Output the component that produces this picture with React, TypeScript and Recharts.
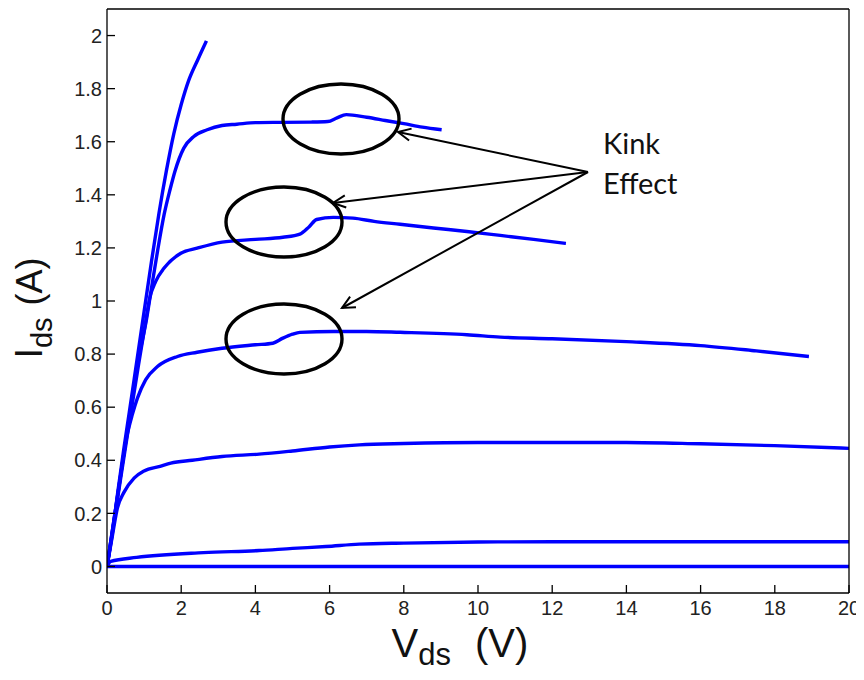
import { LineChart, Line, XAxis, YAxis } from 'recharts';

// Ids–Vds output curves, one per gate bias. V in volts, I in amps.
const vdsA = [0, 0.15, 0.3, 0.45, 0.6, 0.8, 1.0, 1.2, 1.4, 1.6, 1.8, 2.0, 2.2, 2.45, 2.68];
const idsA = [0, 0.13, 0.29, 0.44, 0.58, 0.77, 0.96, 1.15, 1.33, 1.49, 1.63, 1.74, 1.83, 1.91, 1.98];

const vdsB = [0, 0.3, 0.6, 0.85, 1.07, 1.2, 1.36, 1.54, 1.7, 1.83, 2.07, 2.34, 2.7, 3.1, 3.5, 4.0, 4.7, 5.5, 5.95, 6.2, 6.45, 7.0, 7.5, 8.0, 8.5, 9.02];
const idsB = [0, 0.28, 0.56, 0.78, 0.935, 1.05, 1.186, 1.326, 1.42, 1.488, 1.576, 1.62, 1.645, 1.661, 1.666, 1.672, 1.673, 1.674, 1.676, 1.69, 1.702, 1.692, 1.68, 1.668, 1.655, 1.645];

const vdsC = [0, 0.3, 0.6, 0.85, 1.04, 1.15, 1.31, 1.54, 1.99, 2.43, 3.1, 4.0, 4.74, 5.2, 5.45, 5.65, 6.1, 6.63, 7.2, 7.9, 8.8, 9.7, 10.6, 11.5, 12.37];
const idsC = [0, 0.27, 0.54, 0.76, 0.92, 1.01, 1.073, 1.124, 1.18, 1.199, 1.222, 1.232, 1.24, 1.252, 1.28, 1.307, 1.315, 1.312, 1.3, 1.289, 1.275, 1.262, 1.247, 1.232, 1.217];

const vdsD = [0, 0.3, 0.55, 0.68, 0.82, 1.04, 1.36, 1.9, 2.43, 3.1, 4.0, 4.47, 4.74, 5.0, 5.2, 6.1, 7.0, 7.9, 9.7, 10.6, 12.0, 14.0, 16.0, 17.5, 18.92];
const idsD = [0, 0.28, 0.5, 0.571, 0.634, 0.703, 0.753, 0.791, 0.807, 0.822, 0.835, 0.841, 0.86, 0.875, 0.882, 0.885, 0.885, 0.882, 0.873, 0.864, 0.858, 0.847, 0.832, 0.812, 0.791];

const vdsE = [0, 0.15, 0.28, 0.46, 0.73, 1.0, 1.43, 1.72, 2.3, 3.1, 4.1, 5.0, 6.0, 6.8, 8.0, 10.0, 12.0, 14.0, 16.0, 18.0, 20.0];
const idsE = [0, 0.12, 0.22, 0.28, 0.333, 0.36, 0.377, 0.389, 0.4, 0.414, 0.423, 0.435, 0.45, 0.458, 0.463, 0.467, 0.467, 0.467, 0.462, 0.455, 0.445];

const vdsF = [0, 0.1, 0.8, 2.6, 4.1, 5.0, 5.9, 6.8, 8.0, 10.0, 12.0, 14.0, 16.0, 18.0, 20.0];
const idsF = [0, 0.019, 0.034, 0.052, 0.06, 0.068, 0.075, 0.084, 0.088, 0.092, 0.093, 0.093, 0.093, 0.093, 0.093];

const vdsG = [0, 20];
const idsG = [0, 0];

const xTicks = [0, 2, 4, 6, 8, 10, 12, 14, 16, 18, 20];
const yTicks = [0, 0.2, 0.4, 0.6, 0.8, 1, 1.2, 1.4, 1.6, 1.8, 2];

const toPoints = (v: number[], i: number[]) => v.map((x, k) => ({ v: x, i: i[k] }));

const curves = [
  toPoints(vdsA, idsA),
  toPoints(vdsB, idsB),
  toPoints(vdsC, idsC),
  toPoints(vdsD, idsD),
  toPoints(vdsE, idsE),
  toPoints(vdsF, idsF),
  toPoints(vdsG, idsG),
];

const W = 856;
const H = 664;
const AXIS_FONT = '"Liberation Sans", Arial, sans-serif';
const NOTE_FONT = "Lato, 'Open Sans', sans-serif";
const TICK_LEN = 8;

// MATLAB-style ticks: short marks pointing into the plot box
const LeftTick = ({ x, y, payload }: any) => (
  <g>
    <line x1={x} y1={y} x2={x + TICK_LEN} y2={y} stroke="#000" strokeWidth={1.3} />
    <text x={x - 5} y={y} dy="0.36em" textAnchor="end" fontSize={20} fontFamily={AXIS_FONT} fill="#222">
      {payload.value}
    </text>
  </g>
);

const RightTick = ({ x, y }: any) => (
  <line x1={x} y1={y} x2={x - TICK_LEN} y2={y} stroke="#000" strokeWidth={1.3} />
);

const BottomTick = ({ x, y, payload }: any) => (
  <g>
    <line x1={x} y1={y} x2={x} y2={y - TICK_LEN} stroke="#000" strokeWidth={1.3} />
    <text x={x} y={y + 22} textAnchor="middle" fontSize={20} fontFamily={AXIS_FONT} fill="#222">
      {payload.value}
    </text>
  </g>
);

const TopTick = ({ x, y }: any) => (
  <line x1={x} y1={y} x2={x} y2={y + TICK_LEN} stroke="#000" strokeWidth={1.3} />
);

// open arrowhead at (tx, ty), pointing away from (fx, fy)
function arrowHead(fx: number, fy: number, tx: number, ty: number, len = 14, spread = 0.45) {
  const a = Math.atan2(fy - ty, fx - tx);
  const p1 = [tx + len * Math.cos(a + spread), ty + len * Math.sin(a + spread)];
  const p2 = [tx + len * Math.cos(a - spread), ty + len * Math.sin(a - spread)];
  return `M${p1[0]},${p1[1]} L${tx},${ty} L${p2[0]},${p2[1]}`;
}

const hub = { x: 580, y: 164 };
const arrowTips = [
  { x: 390, y: 124 },
  { x: 325, y: 195 },
  { x: 334, y: 300 },
];
const kinkRings = [
  { cx: 333, cy: 111 },
  { cx: 276, cy: 214 },
  { cx: 276, cy: 331 },
];

export default function App() {
  return (
    <div style={{ position: 'relative', width: W, height: H }}>
      <LineChart width={W} height={H} margin={{ top: 0, right: 14, bottom: 39, left: 0 }}>
        <XAxis
          xAxisId="bottom"
          type="number"
          dataKey="v"
          domain={[0, 20]}
          ticks={xTicks}
          allowDataOverflow
          height={40}
          tickSize={0}
          tickMargin={0}
          tickLine={false}
          axisLine={{ stroke: '#000', strokeWidth: 1.3 }}
          tick={BottomTick}
        />
        <XAxis
          xAxisId="top"
          orientation="top"
          type="number"
          dataKey="v"
          domain={[0, 20]}
          ticks={xTicks}
          height={1}
          tickSize={0}
          tickMargin={0}
          tickLine={false}
          axisLine={{ stroke: '#000', strokeWidth: 1.3 }}
          tick={TopTick}
        />
        <YAxis
          yAxisId="left"
          type="number"
          dataKey="i"
          domain={[-0.1, 2.1]}
          ticks={yTicks}
          allowDataOverflow
          width={99}
          tickSize={0}
          tickMargin={0}
          tickLine={false}
          axisLine={{ stroke: '#000', strokeWidth: 1.3 }}
          tick={LeftTick}
        />
        <YAxis
          yAxisId="right"
          orientation="right"
          type="number"
          dataKey="i"
          domain={[-0.1, 2.1]}
          ticks={yTicks}
          width={1}
          tickSize={0}
          tickMargin={0}
          tickLine={false}
          axisLine={{ stroke: '#000', strokeWidth: 1.3 }}
          tick={RightTick}
        />
        {curves.map((pts, k) => (
          <Line
            key={`curve-${k}`}
            data={pts}
            xAxisId="bottom"
            yAxisId="left"
            dataKey="i"
            type="monotoneX"
            stroke="#0000ff"
            strokeWidth={3.4}
            dot={false}
            activeDot={false}
            isAnimationActive={false}
          />
        ))}
      </LineChart>

      <svg width={W} height={H} style={{ position: 'absolute', left: 0, top: 0, pointerEvents: 'none' }}>
        {kinkRings.map((r, k) => (
          <ellipse key={`ring-${k}`} cx={r.cx} cy={r.cy} rx={58} ry={35} fill="none" stroke="#000" strokeWidth={3.4} />
        ))}
        {arrowTips.map((t, k) => (
          <g key={`arrow-${k}`} fill="none" stroke="#000" strokeWidth={2}>
            <line x1={hub.x} y1={hub.y} x2={t.x} y2={t.y} />
            <path d={arrowHead(hub.x, hub.y, t.x, t.y)} />
          </g>
        ))}
        <text x={595} y={146} fontSize={29} fontFamily={NOTE_FONT} fill="#111">Kink</text>
        <text x={595} y={186} fontSize={29} fontFamily={NOTE_FONT} fill="#111">Effect</text>

        <text x={452} y={649} textAnchor="middle" fontFamily={AXIS_FONT} fill="#111">
          <tspan fontSize={40}>V</tspan>
          <tspan fontSize={31} dy={8}>ds</tspan>
          <tspan fontSize={40} dy={-8} dx={24}>(V)</tspan>
        </text>
        <text x={34} y={300} textAnchor="middle" fontFamily={AXIS_FONT} fill="#111" transform="rotate(-90 34 300)">
          <tspan fontSize={38}>I</tspan>
          <tspan fontSize={29} dy={10}>ds</tspan>
          <tspan fontSize={36} dy={-10} dx={12}>(A)</tspan>
        </text>
      </svg>
    </div>
  );
}
